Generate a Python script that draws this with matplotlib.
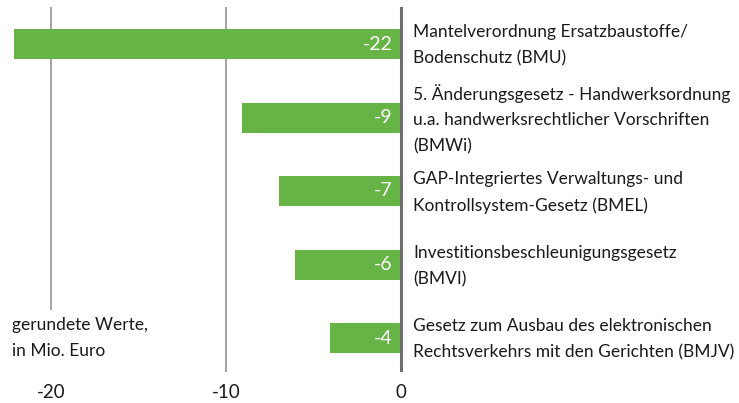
import matplotlib

matplotlib.use("Agg")

import matplotlib.pyplot as plt

plt.rcParams["font.family"] = ["Lato", "DejaVu Sans"]
plt.rcParams["axes.unicode_minus"] = False

labels = [
    "Mantelverordnung Ersatzbaustoffe/\nBodenschutz (BMU)",
    "5. Änderungsgesetz - Handwerksordnung\nu.a. handwerksrechtlicher Vorschriften\n(BMWi)",
    "GAP-Integriertes Verwaltungs- und\nKontrollsystem-Gesetz (BMEL)",
    "Investitionsbeschleunigungsgesetz\n(BMVI)",
    "Gesetz zum Ausbau des elektronischen\nRechtsverkehrs mit den Gerichten (BMJV)",
]
values = [-22.1, -9.1, -7.0, -6.05, -4.05]
value_labels = ["-22", "-9", "-7", "-6", "-4"]
ticks = [-20, -10, 0]
tick_labels = ["-20", "-10", "0"]

GREEN = "#66b446"
TEXT = "#1a1a1a"

W, H = 739, 403
fig = plt.figure(figsize=(W / 100, H / 100), dpi=100, facecolor="white")
# axes spans pixel x 0..410, y 7..372
ax = fig.add_axes([0, (H - 372) / H, 410 / W, 365 / H])
px_per_unit = 17.5
ax.set_xlim(-401 / px_per_unit, 9 / px_per_unit)
spacing = 73.5
y_bottom = 4 + 34 / spacing
y_top = -37 / spacing
ax.set_ylim(y_bottom, y_top)

# the -20 line stops above the note, the -10 line runs to the bottom
ax.vlines(-20, y_top, (310 - 44) / spacing, color="#8a8a8a", lw=1.1, zorder=0)
ax.vlines(-10, y_top, y_bottom, color="#8a8a8a", lw=1.1, zorder=0)
ax.axvline(0, color="#6e6e6e", lw=2.2, zorder=3)

ypos = list(range(len(values)))
ax.barh(ypos, values, height=30 / spacing, color=GREEN, zorder=2)

for y, v, s in zip(ypos, values, value_labels):
    ax.text(-8.5 / px_per_unit, y, s, color="white", fontsize=14,
            ha="right", va="center", zorder=4)
    ax.text(12 / px_per_unit, y + 0.02, labels[y], color=TEXT, fontsize=12.5,
            ha="left", va="center", linespacing=1.75, clip_on=False)

ax.text(-389 / px_per_unit, 4, "gerundete Werte,\nin Mio. Euro", color=TEXT,
        fontsize=12.5, ha="left", va="center", linespacing=1.75, zorder=5)

ax.set_xticks(ticks)
ax.set_xticklabels(tick_labels)
ax.tick_params(axis="x", length=0, pad=9, labelsize=13.5, labelcolor=TEXT)
ax.set_yticks([])
for spine in ax.spines.values():
    spine.set_visible(False)
ax.patch.set_alpha(0)

fig.savefig("out.png", dpi=100, facecolor="white")
